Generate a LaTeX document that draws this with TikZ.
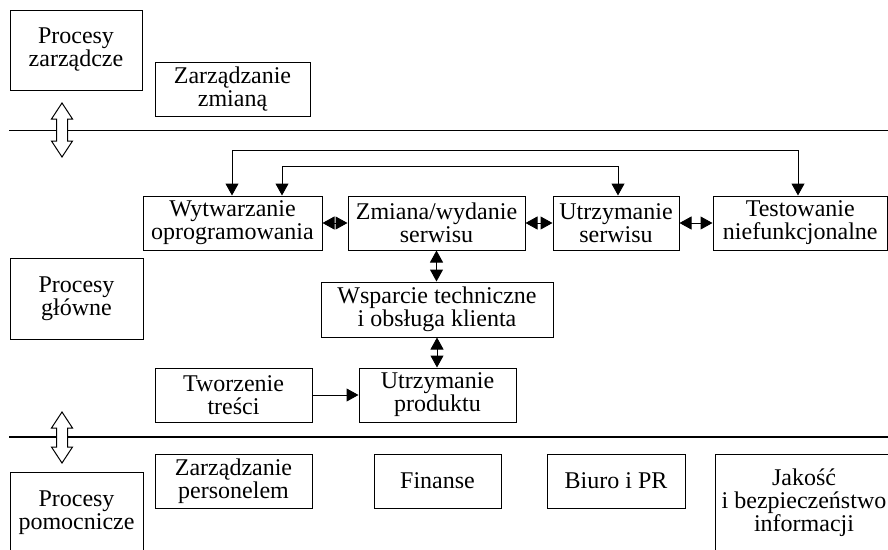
\documentclass[tikz,border=0pt]{standalone}
\usepackage{fontspec}
\setmainfont{Liberation Serif}
\usetikzlibrary{arrows.meta}
\begin{document}
\begin{tikzpicture}[x=1pt,y=-1pt,
  every node/.style={font=\fontsize{24}{23}\selectfont, align=center, inner sep=0pt},
  box/.style={draw, line width=1pt},
  conn/.style={line width=1pt, {Triangle[length=12pt,width=13pt]}-{Triangle[length=12pt,width=13pt]}},
  oneway/.style={line width=1pt, -{Triangle[length=12pt,width=13pt]}},
  sep/.style={line width=1.2pt},
  hollow/.style={draw, line width=1pt, fill=white}]
\useasboundingbox (0,0) rectangle (888,549);
\clip (0,0) rectangle (888,549);
% separators
\draw[sep] (9,130.5) -- (888,130.5);
\draw[sep] (9,437) -- (888,437);
% hollow double arrows
\draw[hollow] (62,103) -- (72.5,119) -- (67.5,119) -- (67.5,141) -- (72.5,141) -- (62,157) -- (51.5,141) -- (56.5,141) -- (56.5,119) -- (51.5,119) -- cycle;
\draw[hollow] (62,412) -- (72.5,428) -- (67.5,428) -- (67.5,447) -- (72.5,447) -- (62,463) -- (51.5,447) -- (56.5,447) -- (56.5,428) -- (51.5,428) -- cycle;
% top section
\node[box, minimum width=132, minimum height=80] (pz) at (76,50) {Procesy\\zarządcze};
\node[box, minimum width=155, minimum height=54] (zz) at (232.5,89) {Zarządzanie\\zmianą};
% main section
\node[box, minimum width=179, minimum height=54] (wo) at (232.5,223) {Wytwarzanie\\oprogramowania};
\node[box, minimum width=177, minimum height=54] (zw) at (436.5,223) {Zmiana/wydanie\\serwisu};
\node[box, minimum width=126, minimum height=54] (us) at (616,223) {Utrzymanie\\serwisu};
\node[box, minimum width=174.5, minimum height=54] (tn) at (800.25,223) {Testowanie\\niefunkcjonalne};
\node[box, minimum width=133, minimum height=81] (pg) at (76.5,298.5) {Procesy\\główne};
\node[box, minimum width=232, minimum height=55] (wt) at (437,309.5) {Wsparcie techniczne\\i obsługa klienta};
\node[box, minimum width=157, minimum height=54] (tt) at (233.5,395) {Tworzenie\\treści};
\node[box, minimum width=157, minimum height=54] (up) at (437.5,395) {Utrzymanie\\produktu};
% support section
\node[box, minimum width=133, minimum height=82] (pp) at (76.5,513) {Procesy\\pomocnicze};
\node[box, minimum width=157, minimum height=54] (zp) at (233.5,481) {Zarządzanie\\personelem};
\node[box, minimum width=127, minimum height=54] (fi) at (437.5,481) {Finanse};
\node[box, minimum width=138, minimum height=54] (bp) at (616,481) {Biuro i PR};
\node[box, minimum width=178, minimum height=98] (jb) at (804,503) {Jakość\\i bezpieczeństwo\\informacji};
% connectors
\coordinate (a1) at (232,150);
\coordinate (a2) at (798,150);
\coordinate (b1) at (282,166);
\coordinate (b2) at (618,166);
\draw[conn] (a1 |- wo.north) -- (a1) -- (a2) -- (a2 |- tn.north);
\draw[conn] (b1 |- wo.north) -- (b1) -- (b2) -- (b2 |- us.north);
\draw[conn] (wo.east) -- (zw.west);
\draw[conn] (zw.east) -- (us.west);
\draw[conn] (us.east) -- (tn.west);
\draw[conn] (zw.south) -- (zw.south |- wt.north);
\draw[conn] (wt.south) -- (wt.south |- up.north);
\draw[oneway] (tt.east) -- (up.west);
\end{tikzpicture}
\end{document}
